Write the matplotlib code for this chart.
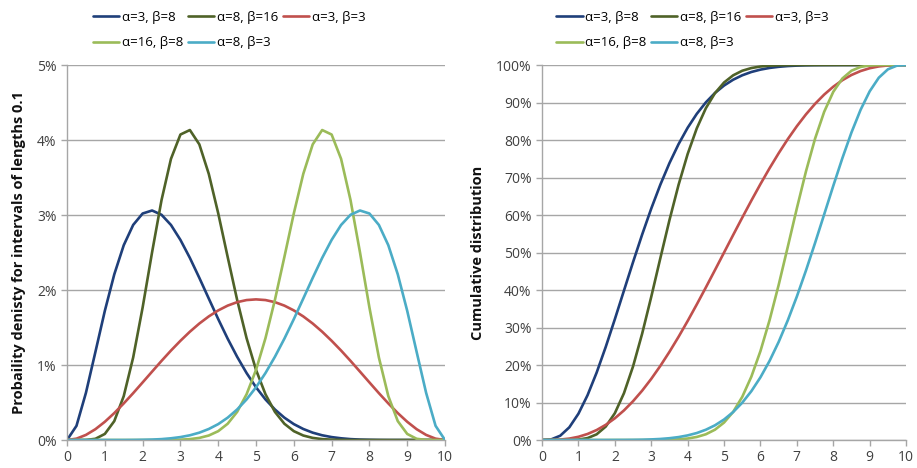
import matplotlib
matplotlib.use("Agg")
import matplotlib.pyplot as plt
from matplotlib.ticker import FuncFormatter, MultipleLocator

plt.rcParams['font.family'] = ['Open Sans', 'DejaVu Sans']

################################################################################
# data (x step 0.25)
x_vals = [0, 0.25, 0.5, 0.75, 1, 1.25, 1.5, 1.75, 2, 2.25, 2.5, 2.75, 3, 3.25,
          3.5, 3.75, 4, 4.25, 4.5, 4.75, 5, 5.25, 5.5, 5.75, 6, 6.25, 6.5,
          6.75, 7, 7.25, 7.5, 7.75, 8, 8.25, 8.5, 8.75, 9, 9.25, 9.5, 9.75, 10]

labels = ['α=3, β=8', 'α=8, β=16', 'α=3, β=3', 'α=16, β=8', 'α=8, β=3']

# probability (%) for intervals of length 0.1
dens_3_8 = [0, 0.189, 0.629, 1.173, 1.722, 2.209, 2.597, 2.868, 3.020, 3.060,
            3.003, 2.867, 2.668, 2.428, 2.162, 1.886, 1.612, 1.351, 1.110,
            0.893, 0.703, 0.541, 0.407, 0.298, 0.212, 0.147, 0.098, 0.063,
            0.039, 0.023, 0.012, 0.006, 0.003, 0.001, 0, 0, 0, 0, 0, 0, 0]
dens_8_16 = [0, 0, 0.001, 0.016, 0.081, 0.252, 0.585, 1.101, 1.767, 2.503,
             3.199, 3.749, 4.073, 4.133, 3.942, 3.548, 3.022, 2.440, 1.869,
             1.358, 0.935, 0.610, 0.375, 0.217, 0.118, 0.060, 0.028, 0.012,
             0.005, 0.002, 0, 0, 0, 0, 0, 0, 0, 0, 0, 0, 0]
dens_3_3 = [0, 0.018, 0.068, 0.144, 0.243, 0.359, 0.488, 0.625, 0.768, 0.912,
            1.055, 1.193, 1.323, 1.444, 1.553, 1.648, 1.728, 1.792, 1.838,
            1.866, 1.875, 1.866, 1.838, 1.792, 1.728, 1.648, 1.553, 1.444,
            1.323, 1.193, 1.055, 0.912, 0.768, 0.625, 0.488, 0.359, 0.243,
            0.144, 0.068, 0.018, 0]
dens_16_8 = [0, 0, 0, 0, 0, 0, 0, 0, 0, 0, 0, 0.002, 0.005, 0.012, 0.028,
             0.060, 0.118, 0.217, 0.375, 0.610, 0.935, 1.358, 1.869, 2.440,
             3.022, 3.548, 3.942, 4.133, 4.073, 3.749, 3.199, 2.503, 1.767,
             1.101, 0.585, 0.252, 0.081, 0.016, 0.001, 0, 0]
dens_8_3 = [0, 0, 0, 0, 0, 0, 0, 0.001, 0.003, 0.006, 0.012, 0.023, 0.039,
            0.063, 0.098, 0.147, 0.212, 0.298, 0.407, 0.541, 0.703, 0.893,
            1.110, 1.351, 1.612, 1.886, 2.162, 2.428, 2.668, 2.867, 3.003,
            3.060, 3.020, 2.868, 2.597, 2.209, 1.722, 1.173, 0.629, 0.189, 0]

# cumulative distribution (%)
cdf_3_8 = [0, 0.16, 1.15, 3.39, 7.02, 11.95, 17.98, 24.84, 32.22, 39.84,
           47.44, 54.79, 61.72, 68.10, 73.84, 78.90, 83.27, 86.97, 90.04,
           92.54, 94.53, 96.08, 97.26, 98.14, 98.77, 99.22, 99.52, 99.72,
           99.84, 99.92, 99.96, 99.98, 99.99, 100, 100, 100, 100, 100, 100,
           100, 100]
cdf_8_16 = [0, 0, 0, 0.02, 0.12, 0.51, 1.52, 3.59, 7.15, 12.48, 19.63, 28.36,
            38.19, 48.50, 58.64, 68.04, 76.27, 83.10, 88.48, 92.50, 95.34,
            97.25, 98.47, 99.19, 99.60, 99.82, 99.92, 99.97, 99.99, 100, 100,
            100, 100, 100, 100, 100, 100, 100, 100, 100, 100]
cdf_3_3 = [0, 0.02, 0.12, 0.38, 0.86, 1.61, 2.66, 4.05, 5.79, 7.89, 10.35,
           13.16, 16.31, 19.77, 23.52, 27.52, 31.74, 36.15, 40.69, 45.32,
           50.00, 54.68, 59.31, 63.85, 68.26, 72.48, 76.48, 80.23, 83.69,
           86.84, 89.65, 92.11, 94.21, 95.95, 97.34, 98.39, 99.14, 99.62,
           99.88, 99.98, 100]
cdf_16_8 = [0, 0, 0, 0, 0, 0, 0, 0, 0, 0, 0, 0, 0.01, 0.03, 0.08, 0.18, 0.40,
            0.81, 1.53, 2.75, 4.66, 7.50, 11.52, 16.90, 23.73, 31.96, 41.36,
            51.50, 61.81, 71.64, 80.37, 87.52, 92.85, 96.41, 98.48, 99.49,
            99.88, 99.98, 100, 100, 100]
cdf_8_3 = [0, 0, 0, 0, 0, 0, 0, 0, 0.01, 0.02, 0.04, 0.08, 0.16, 0.28, 0.48,
           0.78, 1.23, 1.86, 2.74, 3.92, 5.47, 7.46, 9.96, 13.03, 16.73, 21.10,
           26.16, 31.90, 38.28, 45.21, 52.56, 60.16, 67.78, 75.16, 82.02,
           88.05, 92.98, 96.61, 98.85, 99.84, 100]

colors = ['#1F3F7A', '#4F6228', '#C0504D', '#9BBB59', '#4BACC6']


################################################################################
def style_axis(ax, ymax, ystep):
    ax.set_xlim(0, 10)
    ax.set_ylim(0, ymax)
    ax.xaxis.set_major_locator(MultipleLocator(1))
    ax.yaxis.set_major_locator(MultipleLocator(ystep))
    ax.yaxis.set_major_formatter(FuncFormatter(lambda v, p: '%d%%' % round(v)))
    ax.grid(axis='y', color='#A6A6A6', lw=1.0)
    ax.set_axisbelow(True)
    for s in ['top', 'right']:
        ax.spines[s].set_visible(False)
    for s in ['left', 'bottom']:
        ax.spines[s].set_color('#A6A6A6')
        ax.spines[s].set_linewidth(1.0)
    ax.tick_params(axis='both', colors='#A6A6A6', labelcolor='#404040',
                   labelsize=10, length=4, width=1.0)


def add_legend(fig, handles, xc):
    # excel fills the legend row-wise, matplotlib column-wise
    order = [0, 3, 1, 4, 2]
    fig.legend([handles[i] for i in order], [labels[i] for i in order],
               loc='upper center', bbox_to_anchor=(xc, 0.988), ncol=3,
               frameon=False, fontsize=9.5, handlelength=2.0,
               handletextpad=0.2, columnspacing=0.35, labelspacing=0.95,
               borderaxespad=0.0)


def main():
    fig = plt.figure(figsize=(9.17, 4.68), dpi=100)

    ax1 = fig.add_axes([0.0731, 0.0598, 0.4122, 0.8013])
    dens = [dens_3_8, dens_8_16, dens_3_3, dens_16_8, dens_8_3]
    h1 = []
    for d, c in zip(dens, colors):
        ln, = ax1.plot(x_vals, d, color=c, lw=1.9, solid_capstyle='round')
        h1.append(ln)
    style_axis(ax1, 5, 1)
    ax1.set_ylabel('Probaility denisty for intervals of lengths 0.1',
                   fontsize=10.5, fontweight='bold', color='#111111',
                   labelpad=8)
    add_legend(fig, h1, 0.25)

    ax2 = fig.add_axes([0.5911, 0.0598, 0.3970, 0.8013])
    cdfs = [cdf_3_8, cdf_8_16, cdf_3_3, cdf_16_8, cdf_8_3]
    h2 = []
    for d, c in zip(cdfs, colors):
        ln, = ax2.plot(x_vals, d, color=c, lw=1.9, solid_capstyle='round')
        h2.append(ln)
    style_axis(ax2, 100, 10)
    ax2.set_ylabel('Cumulative distribution', fontsize=10.5,
                   fontweight='bold', color='#111111', labelpad=8)
    add_legend(fig, h2, 0.755)

    fig.savefig('out.png', dpi=100)


################################################################################
if __name__ == "__main__":
    main()
